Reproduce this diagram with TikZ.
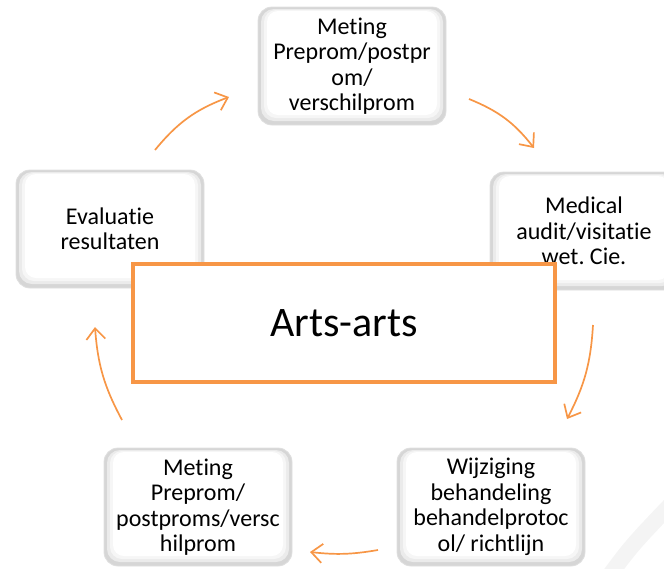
\documentclass[tikz,border=0pt]{standalone}
\usepackage{fontspec}
\setmainfont{Carlito}[Ligatures=NoCommon]
\usetikzlibrary{arrows.meta}
\definecolor{oranje}{HTML}{F79646}
\newcommand{\stapfont}{\fontsize{24}{25.5}\selectfont}
\newcommand{\losti}{t\kern0pt i}
\frenchspacing

\begin{document}
\begin{tikzpicture}[x=1pt,y=1pt,
  stap/.style={rounded corners=14pt, minimum width=188pt, minimum height=118pt,
    align=center, font=\stapfont, fill=gray!32, draw=gray!25, line width=0.8pt,
    path picture={
      \fill[gray!16, rounded corners=13pt] ([shift={(3pt,-2pt)}]path picture bounding box.north west)
        rectangle ([shift={(-3pt,4pt)}]path picture bounding box.south east);
      \fill[gray!7, rounded corners=12pt] ([shift={(6pt,-3pt)}]path picture bounding box.north west)
        rectangle ([shift={(-6pt,7pt)}]path picture bounding box.south east);
      \fill[white, rounded corners=11pt] ([shift={(9pt,-4pt)}]path picture bounding box.north west)
        rectangle ([shift={(-9pt,10pt)}]path picture bounding box.south east);
    }},
  pijl/.style={oranje, line width=1.7pt, -{Straight Barb[length=11pt,width=19pt]}}]
\useasboundingbox (0,0) rectangle (664,-568);
\clip (0,0) rectangle (664,-568);

% Watermark
\draw[line width=16pt, gray!9] (606,-580) .. controls (632,-545) .. (675,-500);

% Stappen
\node[stap] (meting1) at (352,-66) {Meting\\Preprom/postpr\\om/\\verschilprom};
\node[stap] (audit) at (584,-231) {Medical\\audit/visita\losti e\\wet. Cie.};
\node[stap] (wijziging) at (491,-507) {Wijziging\\behandeling\\behandelprotoc\\ol/ richtlijn};
\node[stap] (meting2) at (198,-507) {Meting\\Preprom/\\postproms/versc\\hilprom};
\node[stap] (evaluatie) at (110,-229) {Evalua\losti e\\resultaten};

% Midden
\node[draw=oranje, line width=4.5pt, fill=white, minimum width=422pt, minimum height=118pt,
  font=\fontsize{42}{48}\selectfont] (arts) at (344,-323) {Arts-arts};

% Pijlen
\coordinate (p1) at (155,-150); \coordinate (q1) at (229,-97);
\coordinate (p2) at (469,-99); \coordinate (q2) at (534,-148);
\coordinate (p3) at (593,-325); \coordinate (q3) at (567,-419);
\coordinate (p4) at (378,-550); \coordinate (q4) at (310,-552);
\coordinate (p5) at (122,-420); \coordinate (q5) at (95,-327);
\draw[pijl] (p1) to[bend left=15] (q1);
\draw[pijl] (p2) to[bend left=15] (q2);
\draw[pijl] (p3) to[bend left=12] (q3);
\draw[pijl] (p4) to[bend left=8] (q4);
\draw[pijl] (p5) to[bend left=12] (q5);
\end{tikzpicture}
\end{document}
